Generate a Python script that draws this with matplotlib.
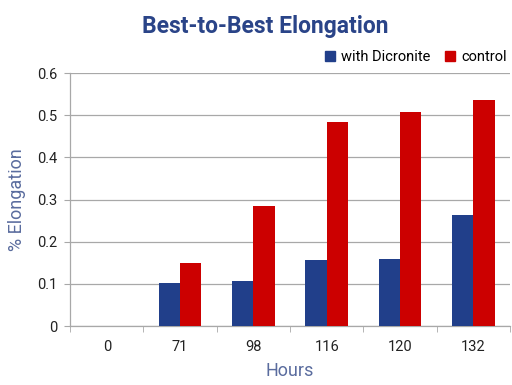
import numpy as np
import matplotlib
matplotlib.use("Agg")
import matplotlib.pyplot as plt
from matplotlib.patches import Rectangle

hours = ["0", "71", "98", "116", "120", "132"]
dicronite = [0.0, 0.102, 0.107, 0.156, 0.159, 0.264]
control = [0.0, 0.150, 0.284, 0.483, 0.507, 0.536]
yticks = [0, 0.1, 0.2, 0.3, 0.4, 0.5, 0.6]

BLUE = "#213F8A"
RED = "#CC0000"
GRID = "#A8A8A8"
FONT = ["Liberation Sans Narrow", "Roboto", "DejaVu Sans"]

plt.rcParams["font.family"] = FONT

fig = plt.figure(figsize=(5.12, 3.85), dpi=100)
ax = fig.add_axes([0.137, 0.153, 0.859, 0.657])

x = np.arange(len(hours))
w = 0.29
ax.bar(x - w / 2, dicronite, width=w, color=BLUE, zorder=3)
ax.bar(x + w / 2, control, width=w, color=RED, zorder=3)

ax.set_xlim(-0.5, len(hours) - 0.5)
ax.set_ylim(0, 0.6)
ax.set_yticks(yticks)
ax.set_yticklabels(["0"] + [f"{v:.1f}" for v in yticks[1:]], fontsize=10.5, color="#222222")
ax.yaxis.grid(True, color=GRID, linewidth=0.9, zorder=0)
ax.tick_params(axis="y", length=4, color=GRID, pad=5)

ax.set_xticks(x)
ax.set_xticklabels(hours, fontsize=10.5, color="#222222")
ax.set_xticks(np.arange(len(hours) + 1) - 0.5, minor=True)
ax.tick_params(axis="x", which="major", length=0, pad=10)
ax.tick_params(axis="x", which="minor", length=4, color=GRID)

for s in ["top", "right"]:
    ax.spines[s].set_visible(False)
for s in ["left", "bottom"]:
    ax.spines[s].set_color(GRID)
    ax.spines[s].set_linewidth(0.9)

ax.set_xlabel("Hours", fontsize=13, color="#5A6C9E", labelpad=6)
ax.set_ylabel("% Elongation", fontsize=13, color="#5A6C9E", labelpad=8)

fig.text(0.518, 0.93, "Best-to-Best Elongation", ha="center", va="center",
         fontsize=16.5, fontweight="bold", color="#2A4488")

# legend
leg = ax.legend(
    handles=[Rectangle((0, 0), 1, 1, color=BLUE), Rectangle((0, 0), 1, 1, color=RED)],
    labels=["with Dicronite", "control"], loc="lower right",
    bbox_to_anchor=(1.012, 1.0), ncol=2, frameon=False, fontsize=10.5,
    handlelength=0.7, handleheight=0.7, handletextpad=0.4, columnspacing=1.0,
    borderaxespad=0.2,
)

fig.savefig("out.png", dpi=100)
